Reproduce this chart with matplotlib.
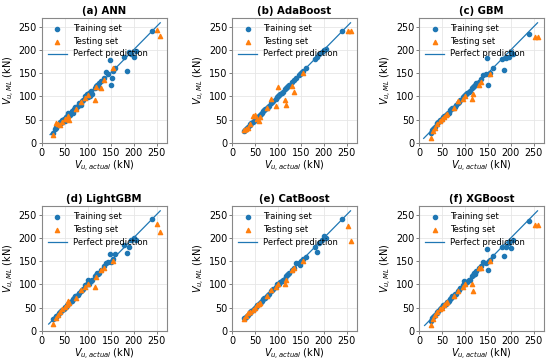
import matplotlib.pyplot as plt

# actual shear strengths (kN)
train_actual = [25, 28, 30, 32, 35, 38, 40, 42, 45, 48, 50, 52, 55, 58, 60, 62, 65, 68,
                70, 72, 75, 78, 80, 85, 88, 90, 95, 98, 100, 102, 105, 108, 110, 115,
                118, 120, 122, 125, 130, 135, 140, 145, 148, 150, 152, 155, 160, 180,
                185, 190, 195, 200, 205, 240]
test_actual = [25, 30, 35, 40, 45, 50, 55, 58, 60, 75, 85, 95, 100, 115, 118, 130, 135,
               155, 252, 258]

titles = ['(a) ANN', '(b) AdaBoost', '(c) GBM', '(d) LightGBM', '(e) CatBoost', '(f) XGBoost']

train_pred = {
    'ANN': [22, 30, 35, 33, 38, 40, 45, 42, 50, 52, 48, 55, 58, 65, 62, 60, 68, 65,
            72, 78, 72, 80, 85, 82, 90, 92, 100, 105, 98, 108, 100, 112, 105, 118,
            122, 125, 120, 128, 133, 140, 152, 148, 178, 125, 140, 155, 162, 185,
            155, 195, 190, 185, 198, 240],
    'AdaBoost': [26, 28, 30, 32, 35, 38, 40, 42, 45, 48, 50, 52, 55, 58, 60, 62, 65, 68,
                 70, 72, 75, 78, 80, 85, 88, 90, 95, 98, 100, 102, 105, 108, 110, 115,
                 118, 120, 122, 125, 130, 135, 140, 145, 148, 150, 152, 155, 160, 180,
                 185, 190, 195, 200, 202, 240],
    'GBM': [22, 28, 30, 33, 35, 40, 42, 45, 50, 50, 52, 55, 58, 60, 62, 65, 65, 70,
            72, 75, 75, 78, 82, 85, 88, 92, 98, 100, 102, 105, 108, 110, 112, 118,
            120, 122, 125, 128, 132, 138, 145, 148, 182, 125, 148, 150, 160, 180,
            157, 182, 185, 195, 190, 235],
    'LightGBM': [25, 28, 30, 32, 35, 38, 40, 42, 45, 48, 52, 52, 55, 58, 60, 62, 65, 68,
                 72, 75, 75, 78, 82, 85, 88, 90, 98, 100, 110, 102, 108, 108, 110, 118,
                 120, 125, 122, 125, 132, 140, 145, 148, 165, 148, 150, 155, 165, 185,
                 167, 180, 195, 200, 195, 240],
    'CatBoost': [27, 28, 30, 32, 35, 38, 40, 42, 45, 48, 50, 52, 55, 58, 60, 62, 65, 68,
                 70, 72, 75, 78, 80, 85, 88, 90, 95, 100, 100, 102, 105, 108, 110, 112,
                 118, 120, 122, 125, 130, 135, 145, 145, 142, 150, 150, 155, 160, 180,
                 170, 190, 195, 205, 200, 240],
    'XGBoost': [22, 27, 30, 32, 35, 38, 40, 42, 48, 50, 52, 55, 55, 58, 62, 62, 65, 68,
                70, 75, 75, 80, 80, 85, 88, 92, 98, 108, 100, 105, 105, 110, 110, 118,
                120, 125, 122, 128, 135, 140, 148, 145, 177, 130, 150, 152, 162, 180,
                162, 180, 190, 178, 195, 237],
}
test_pred = {
    'ANN': [18, 42, 40, 38, 45, 52, 52, 58, 50, 73, 87, 97, 103, 92, 120, 118, 135,
            160, 242, 230],
    'AdaBoost': [28, 30, 33, 40, 58, 60, 52, 48, 55, 75, 95, 80, 120, 92, 82, 122, 110,
                 150, 240, 240],
    'GBM': [10, 25, 33, 40, 48, 52, 55, 60, 62, 75, 90, 95, 100, 95, 105, 125, 130,
            148, 228, 228],
    'LightGBM': [15, 28, 35, 40, 48, 52, 55, 65, 60, 72, 88, 95, 100, 95, 115, 130, 135,
                 150, 230, 213],
    'CatBoost': [25, 32, 38, 40, 45, 50, 55, 58, 60, 75, 88, 95, 100, 102, 110, 130, 135,
                 150, 226, 193],
    'XGBoost': [12, 25, 35, 40, 48, 50, 55, 60, 62, 75, 85, 95, 100, 100, 87, 135, 135,
                150, 227, 227],
}

models = ['ANN', 'AdaBoost', 'GBM', 'LightGBM', 'CatBoost', 'XGBoost']

fig = plt.figure(figsize=(5.5, 3.63), dpi=100)
lefts = [0.076, 0.422, 0.762]
bottoms = [0.606, 0.088]

for k, name in enumerate(models):
    row, col = divmod(k, 3)
    ax = fig.add_axes([lefts[col], bottoms[row], 0.227, 0.344])
    ax.scatter(train_actual, train_pred[name], s=9, color='tab:blue', marker='o',
               label='Training set', zorder=3)
    ax.scatter(test_actual, test_pred[name], s=9, color='tab:orange', marker='^',
               label='Testing set', zorder=3)
    allv = train_actual + test_actual + train_pred[name] + test_pred[name]
    lo, hi = min(allv), max(allv)
    ax.plot([lo, hi], [lo, hi], color='tab:blue', lw=0.9, label='Perfect prediction', zorder=2)
    ax.set_xlim(0, 272)
    ax.set_ylim(0, 268)
    ax.set_xticks([0, 50, 100, 150, 200, 250])
    ax.set_yticks([0, 50, 100, 150, 200, 250])
    ax.grid(True, color='#e6e6e6', lw=0.6)
    ax.set_axisbelow(True)
    for sp in ax.spines.values():
        sp.set_color('#888888')
        sp.set_linewidth(0.8)
    ax.tick_params(labelsize=6.9, length=2.5, width=0.6, pad=1, color='#666666')
    ax.set_title(titles[k], fontsize=7.3, fontweight='bold', pad=3)
    ax.set_xlabel('$V_{u,actual}$ (kN)', fontsize=7, labelpad=1)
    ax.set_ylabel('$V_{u,ML}$ (kN)', fontsize=7, labelpad=1)
    ax.legend(loc='upper left', fontsize=6, frameon=False, handlelength=2.3,
              borderaxespad=0.3, borderpad=0.4, labelspacing=0.45, handletextpad=0.7)

fig.savefig('out.png', dpi=100)
